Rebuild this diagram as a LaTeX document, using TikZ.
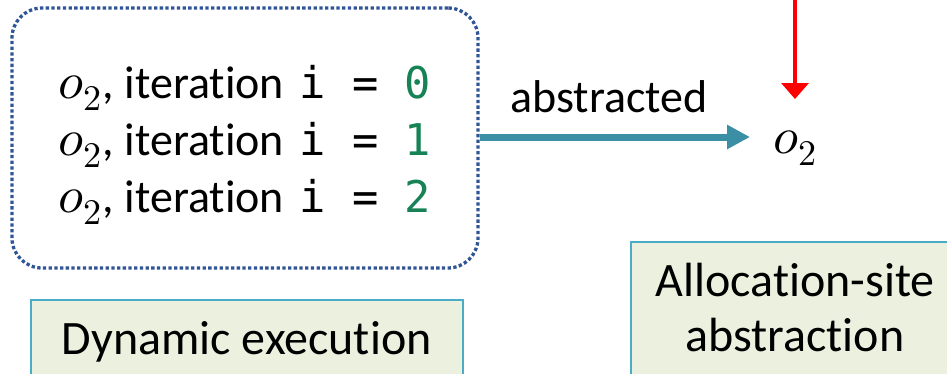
\documentclass[tikz,border=0pt]{standalone}
\usepackage{unicode-math}
\setmainfont[Ligatures=NoCommon]{Carlito}
\setmathfont[Scale=1.12]{Latin Modern Math}
\newfontfamily\monofont[Scale=0.95]{DejaVu Sans Mono}
\usetikzlibrary{arrows.meta}
\definecolor{dotblue}{HTML}{2F5597}
\definecolor{arrteal}{HTML}{3A8FA5}
\definecolor{numgreen}{RGB}{22,130,85}
\definecolor{boxfill}{HTML}{EBF1DE}
\definecolor{boxline}{HTML}{4BACC6}
\definecolor{arrred}{HTML}{FF0000}
\tikzset{
  rowtext/.style={anchor=base west, inner sep=0pt, font=\fontsize{46}{55}\selectfont},
  labelbox/.style={draw=boxline, line width=1.5pt, fill=boxfill, inner sep=0pt},
  labeltext/.style={anchor=base, inner sep=0pt, font=\fontsize{48}{55}\selectfont},
  dotbox/.style={draw=dotblue, line width=3.3pt, dash pattern=on 3.3pt off 2.4pt, rounded corners=30pt, inner sep=0pt},
}
\newcommand{\itrow}[1]{$o_2$\kern1pt, iteration\ \kern5pt{\monofont i = \textcolor{numgreen}{#1}}}
\begin{document}
\begin{tikzpicture}[x=1pt,y=-1pt]
\useasboundingbox (0,0) rectangle (947,373);
% dotted box
\node[dotbox, minimum width=466pt, minimum height=260pt] (dyn) at (245,138) {};
\node[rowtext] (r0) at (58,98) {\itrow{0}};
\node[rowtext] (r1) at (58,155) {\itrow{1}};
\node[rowtext] (r2) at (58,212) {\itrow{2}};
% abstract object
\node[inner sep=0pt, font=\fontsize{46}{55}\selectfont, anchor=base west] (o2r) at (773,153) {$o_2$};
\coordinate (rtop) at (795,-3);
% arrows
\draw[arrteal, line width=7pt, -{Triangle[length=23pt,width=23pt]}, shorten >=23pt]
  (dyn.east |- 0,137) -- (o2r.west |- 0,137);
\node[anchor=base west, inner sep=0pt, font=\fontsize{46}{55}\selectfont] (abs) at (510,112) {abstracted};
\draw[arrred, line width=3.5pt, -{Triangle[length=16pt,width=27pt]}]
  (rtop) -- (rtop |- 0,99);
% label boxes
\node[labelbox, minimum width=432pt, minimum height=100pt, anchor=north west] (dynbox) at (30,299) {};
\node[labeltext] (dyntext) at (dynbox.north |- 0,354) {Dynamic execution};
\node[labelbox, minimum width=330pt, minimum height=160pt, anchor=north west] (allocbox) at (630,241) {};
\node[labeltext] (alloct1) at (795,296) {Allocation-site};
\node[labeltext] (alloct2) at (795,351) {abstraction};
\end{tikzpicture}
\end{document}
